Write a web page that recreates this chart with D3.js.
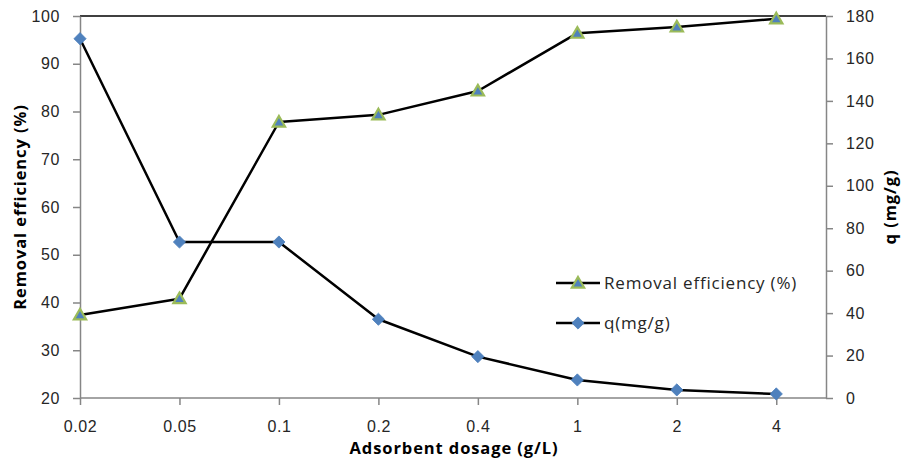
<!DOCTYPE html>
<html>
<head>
<meta charset="utf-8">
<script src="https://cdn.jsdelivr.net/npm/d3@7"></script>
<style>
  html, body { margin: 0; padding: 0; background: #fff; }
  svg { display: block; font-family: "Open Sans", "Liberation Sans", sans-serif; }
</style>
</head>
<body>
<svg id="chart" width="902" height="465"></svg>
<script>
// Adsorbent dosage categories (g/L)
const dosages = ["0.02", "0.05", "0.1", "0.2", "0.4", "1", "2", "4"];
// Removal efficiency (%) — left axis
const removalEfficiency = [37.4, 40.8, 77.8, 79.3, 84.3, 96.4, 97.7, 99.4];
// Adsorption capacity q (mg/g) — right axis
const qValues = [169.3, 73.5, 73.5, 37.1, 19.5, 8.5, 3.8, 1.9];
const leftTicks = [20, 30, 40, 50, 60, 70, 80, 90, 100];
const rightTicks = [0, 20, 40, 60, 80, 100, 120, 140, 160, 180];

const svg = d3.select("#chart");
const plot = { left: 80, right: 826, top: 16, bottom: 398 };
const step = (plot.right - plot.left) / (dosages.length - 0.5);

const x = d3.scalePoint()
  .domain(dosages)
  .range([plot.left, plot.left + step * (dosages.length - 1)]);
const yL = d3.scaleLinear().domain([20, 100]).range([plot.bottom, plot.top]);
const yR = d3.scaleLinear().domain([0, 180]).range([plot.bottom, plot.top]);

const axisColor = "#868686";
const textColor = "#262626";

// top border of the plot area
svg.append("line")
  .attr("x1", plot.left).attr("x2", plot.right)
  .attr("y1", plot.top).attr("y2", plot.top)
  .attr("stroke", "#000").attr("stroke-width", 1.5);

function styleAxis(g) {
  g.select(".domain").attr("stroke", axisColor).attr("stroke-width", 1.5);
  g.selectAll(".tick line").attr("stroke", axisColor).attr("stroke-width", 1.5);
  g.selectAll(".tick text").attr("fill", textColor)
    .style("font-size", "16px").style("letter-spacing", "0.6px");
}

// left axis
svg.append("g")
  .attr("transform", `translate(${plot.left},0)`)
  .call(d3.axisLeft(yL).tickValues(leftTicks).tickSize(7).tickSizeOuter(0).tickPadding(13))
  .call(styleAxis);

// right axis
svg.append("g")
  .attr("transform", `translate(${plot.right},0)`)
  .call(d3.axisRight(yR).tickValues(rightTicks).tickSize(7).tickSizeOuter(0).tickPadding(13))
  .call(styleAxis);

// bottom axis
const xAxisG = svg.append("g")
  .attr("transform", `translate(0,${plot.bottom})`)
  .call(d3.axisBottom(x).tickSize(7).tickSizeOuter(0).tickPadding(16))
  .call(styleAxis);
xAxisG.select(".domain").attr("d", `M${plot.left},0H${plot.right}`);

// axis titles
const titleStyle = sel => sel
  .attr("text-anchor", "middle")
  .style("font-size", "16.5px").style("font-weight", "bold")
  .style("letter-spacing", "0.9px").attr("fill", "#000");

svg.append("text")
  .attr("transform", `translate(26,207) rotate(-90)`)
  .call(titleStyle)
  .text("Removal efficiency (%)");

svg.append("text")
  .attr("transform", `translate(896,207) rotate(-90)`)
  .call(titleStyle)
  .text("q (mg/g)");

svg.append("text")
  .attr("x", 454).attr("y", 454)
  .call(titleStyle)
  .text("Adsorbent dosage (g/L)");

// series lines
const lineRE = d3.line().x((d, i) => x(dosages[i])).y(d => yL(d));
const lineQ = d3.line().x((d, i) => x(dosages[i])).y(d => yR(d));

svg.append("path").datum(qValues)
  .attr("d", lineQ).attr("fill", "none").attr("stroke", "#000")
  .attr("stroke-width", 2.5).attr("stroke-linejoin", "round");
svg.append("path").datum(removalEfficiency)
  .attr("d", lineRE).attr("fill", "none").attr("stroke", "#000")
  .attr("stroke-width", 2.5).attr("stroke-linejoin", "round");

const diamond = d3.symbol().type(d3.symbolDiamond2).size(95);
const triangle = d3.symbol().type(d3.symbolTriangle).size(65);

function drawDiamond(g, cx, cy) {
  g.append("path").attr("d", diamond())
    .attr("transform", `translate(${cx},${cy})`)
    .attr("fill", "#4F81BD").attr("stroke", "#4A7EBB").attr("stroke-width", 0.8);
}
function drawTriangle(g, cx, cy) {
  g.append("path").attr("d", triangle())
    .attr("transform", `translate(${cx},${cy + 1})`)
    .attr("fill", "#4F81BD").attr("stroke", "#9BBB59").attr("stroke-width", 2.2)
    .attr("stroke-linejoin", "miter");
}

const markers = svg.append("g");
qValues.forEach((v, i) => drawDiamond(markers, x(dosages[i]), yR(v)));
removalEfficiency.forEach((v, i) => drawTriangle(markers, x(dosages[i]), yL(v)));

// legend
const legend = svg.append("g");
const legendItems = [
  { label: "Removal efficiency (%)", y: 283, draw: drawTriangle },
  { label: "q(mg/g)", y: 323, draw: drawDiamond }
];
legendItems.forEach(item => {
  legend.append("line")
    .attr("x1", 556).attr("x2", 600).attr("y1", item.y).attr("y2", item.y)
    .attr("stroke", "#000").attr("stroke-width", 2.5);
  item.draw(legend, 578, item.y);
  legend.append("text")
    .attr("x", 604).attr("y", item.y).attr("dy", "0.36em")
    .style("font-size", "17px").style("letter-spacing", "0.8px").attr("fill", textColor)
    .text(item.label);
});
</script>
</body>
</html>
